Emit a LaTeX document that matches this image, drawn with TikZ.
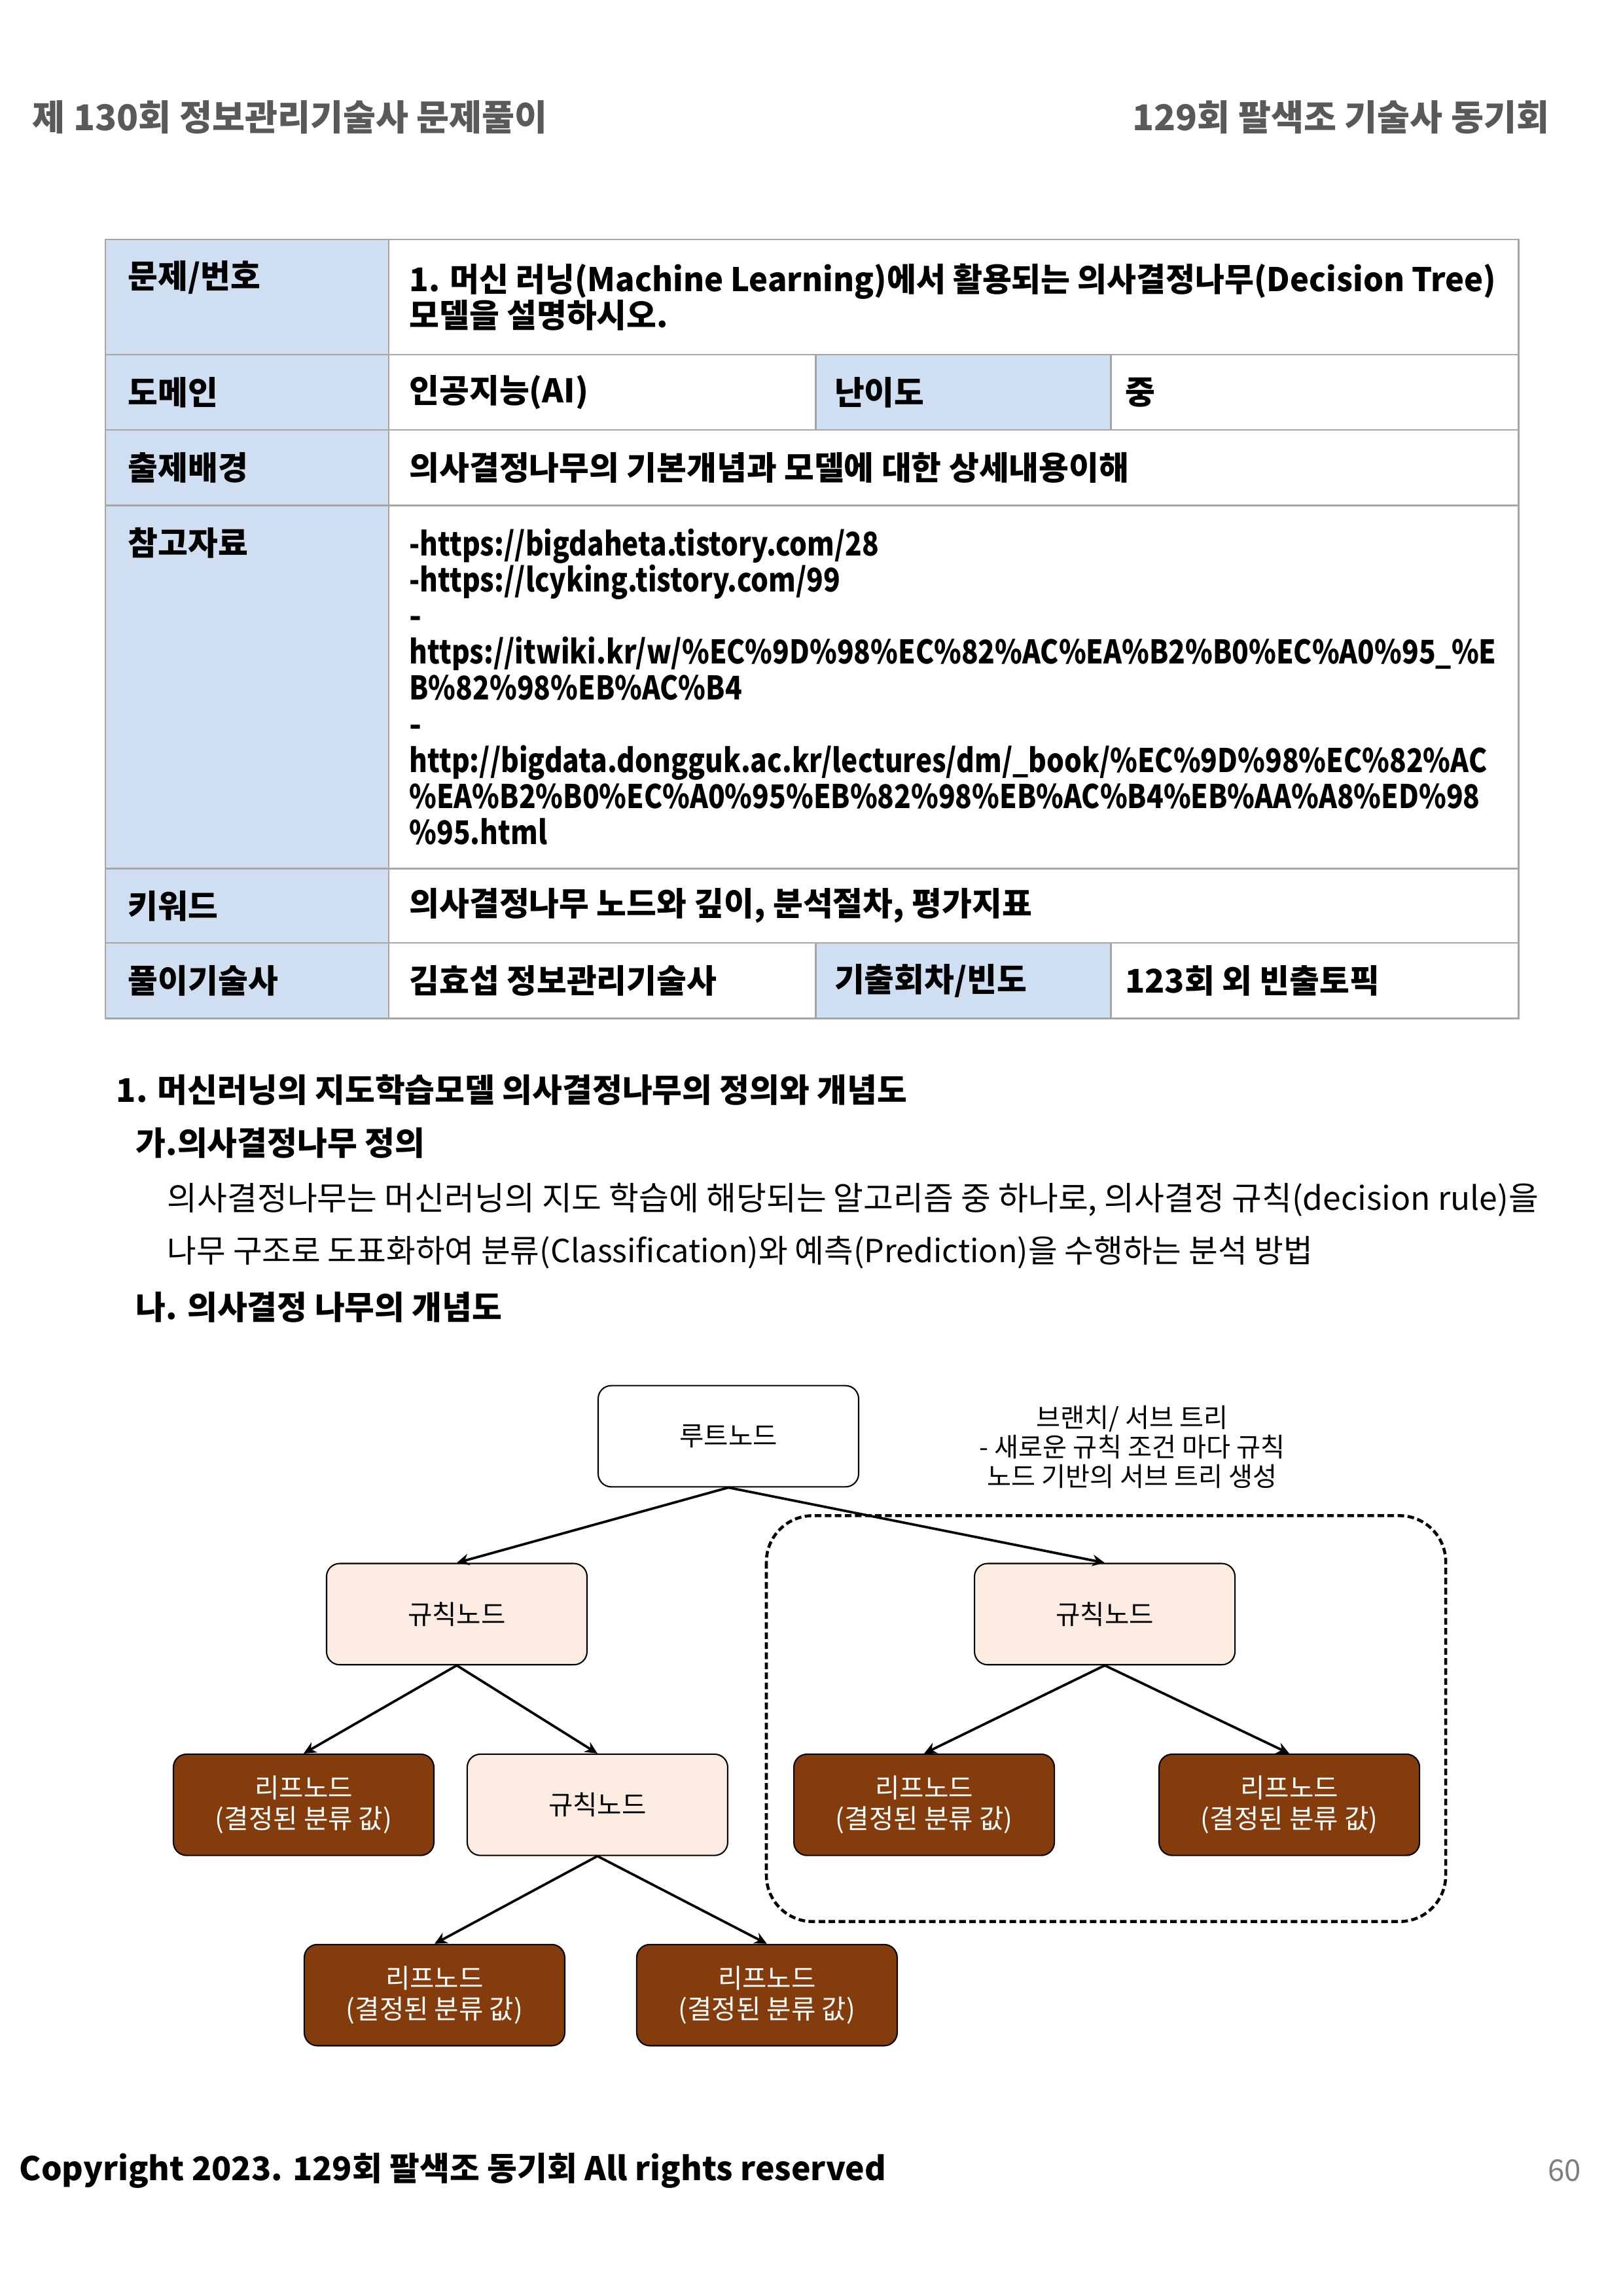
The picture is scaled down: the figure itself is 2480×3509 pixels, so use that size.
\documentclass[tikz,border=0pt]{standalone}
\usepackage{fontspec}
\setmainfont{Noto Sans CJK KR}
\usetikzlibrary{positioning,arrows.meta,calc}
\definecolor{hdblue}{HTML}{CFDFF1}
\definecolor{tline}{HTML}{A6A6A6}
\definecolor{headgray}{HTML}{595959}
\definecolor{pagegray}{HTML}{7F7F7F}
\definecolor{rulefill}{HTML}{FCEBE0}
\definecolor{leafbrown}{HTML}{843C0C}
\newcommand{\tb}{\fontsize{12}{13.3}\selectfont\bfseries}
\newcommand{\dg}{\fontsize{9.8}{11.3}\selectfont}
\newcommand{\narrow}[1]{\scalebox{0.85}[1]{#1}}

\begin{document}
\begin{tikzpicture}[x=0.08467mm,y=-0.08467mm,
  pg/.style={inner sep=0pt,anchor=west},
  hdr/.style={pg,font=\fontsize{13.1}{15}\selectfont\bfseries,text=headgray},
  sec/.style={pg,font=\tb},
  txt/.style={pg,font=\fontsize{12}{13.3}\selectfont},
  hd/.style={draw=tline,line width=0.7pt,fill=hdblue,outer sep=0pt,inner sep=0pt,minimum width=36.66mm},
  hd2/.style={hd,minimum width=38.19mm},
  bd/.style={draw=tline,line width=0.7pt,outer sep=0pt,inner sep=0pt},
  hdt/.style={anchor=west,inner sep=0pt,font=\tb,xshift=2.88mm,yshift=-4.91mm},
  bdt/.style={anchor=west,inner sep=0pt,font=\tb,align=left,xshift=2.6mm},
  box/.style={draw,line width=0.5pt,rounded corners=1.7mm,minimum width=33.7mm,minimum height=13.1mm,font=\dg,align=center},
  rootbox/.style={box,fill=white},
  rulebox/.style={box,fill=rulefill},
  leafbox/.style={box,fill=leafbrown,text=white},
  ar/.style={-{Stealth[length=1.6mm,width=1.5mm]},line width=0.9pt},
  subtree/.style={line width=1.1pt,dash pattern=on 0.85mm off 0.45mm,rounded corners=6mm}]
\useasboundingbox (0,0) rectangle (2480,3509);
% ---- page header / footer ----
\node[hdr] (hl) at (49,179) {제 130회 정보관리기술사 문제풀이};
\node[hdr,anchor=east] (hr) at (2368,179) {129회 팔색조 기술사 동기회};
\node[pg,font=\fontsize{12}{14}\selectfont\bfseries] (foot) at (29,3317) {Copyright 2023. 129회 팔색조 동기회 All rights reserved};
\node[pg,anchor=east,font=\fontsize{11}{13}\selectfont,text=pagegray] (pno) at (2417,3317) {60};
% ---- question table ----
\node[hd,anchor=north west,minimum height=14.9mm] (h1) at (161,366) {};
\node[bd,right=0pt of h1,minimum width=146.15mm,minimum height=14.9mm] (b1) {};
\node[hd,below=0pt of h1,minimum height=9.74mm] (h2) {};
\node[bd,right=0pt of h2,minimum width=55.21mm,minimum height=9.74mm] (b2) {};
\node[hd2,right=0pt of b2,minimum height=9.74mm] (h2b) {};
\node[bd,right=0pt of h2b,minimum width=52.75mm,minimum height=9.74mm] (b2b) {};
\node[hd,below=0pt of h2,minimum height=9.74mm] (h3) {};
\node[bd,right=0pt of h3,minimum width=146.15mm,minimum height=9.74mm] (b3) {};
\node[hd,below=0pt of h3,minimum height=46.99mm] (h4) {};
\node[bd,right=0pt of h4,minimum width=146.15mm,minimum height=46.99mm] (b4) {};
\node[hd,below=0pt of h4,minimum height=9.65mm] (h5) {};
\node[bd,right=0pt of h5,minimum width=146.15mm,minimum height=9.65mm] (b5) {};
\node[hd,below=0pt of h5,minimum height=9.74mm] (h6) {};
\node[bd,right=0pt of h6,minimum width=55.21mm,minimum height=9.74mm] (b6) {};
\node[hd2,right=0pt of b6,minimum height=9.74mm] (h6b) {};
\node[bd,right=0pt of h6b,minimum width=52.75mm,minimum height=9.74mm] (b6b) {};
% cell texts
\node[hdt] (h1t) at (h1.north west) {문제/번호};
\node[bdt] (b1t) at (b1.west) {\scalebox{0.98}[1]{1. 머신 러닝(Machine Learning)에서 활용되는 의사결정나무(Decision Tree)}\\모델을 설명하시오.};
\node[hdt] (h2t) at (h2.north west) {도메인};
\node[bdt] (b2t) at (b2.west) {인공지능(AI)};
\node[hdt,xshift=-0.5mm] (h2bt) at (h2b.north west) {난이도};
\node[bdt,xshift=-0.8mm] (b2bt) at (b2b.west) {중};
\node[hdt] (h3t) at (h3.north west) {출제배경};
\node[bdt] (b3t) at (b3.west) {의사결정나무의 기본개념과 모델에 대한 상세내용이해};
\node[hdt] (h4t) at (h4.north west) {참고자료};
\node[bdt] (b4t) at (b4.west) {\narrow{-https://bigdaheta.tistory.com/28}\\
  \narrow{-https://lcyking.tistory.com/99}\\
  -\\
  \narrow{https://itwiki.kr/w/\%EC\%9D\%98\%EC\%82\%AC\%EA\%B2\%B0\%EC\%A0\%95\_\%E}\\
  \narrow{B\%82\%98\%EB\%AC\%B4}\\
  -\\
  \narrow{http://bigdata.dongguk.ac.kr/lectures/dm/\_book/\%EC\%9D\%98\%EC\%82\%AC}\\
  \narrow{\%EA\%B2\%B0\%EC\%A0\%95\%EB\%82\%98\%EB\%AC\%B4\%EB\%AA\%A8\%ED\%98}\\
  \narrow{\%95.html}};
\node[hdt] (h5t) at (h5.north west) {키워드};
\node[bdt] (b5t) at (b5.west) {의사결정나무 노드와 깊이, 분석절차, 평가지표};
\node[hdt] (h6t) at (h6.north west) {풀이기술사};
\node[bdt] (b6t) at (b6.west) {김효섭 정보관리기술사};
\node[hdt,xshift=-0.5mm] (h6bt) at (h6b.north west) {기출회차/빈도};
\node[bdt,xshift=-0.8mm] (b6bt) at (b6b.west) {123회 외 빈출토픽};
% ---- answer text ----
\node[sec] (s1) at (177,1666) {1. 머신러닝의 지도학습모델 의사결정나무의 정의와 개념도};
\node[sec] (s1a) at (207,1747) {가.의사결정나무 정의};
\node[txt] (p1) at (255,1834) {의사결정나무는 머신러닝의 지도 학습에 해당되는 알고리즘 중 하나로, 의사결정 규칙(decision rule)을};
\node[txt,font=\fontsize{11.7}{13.3}\selectfont] (p2) at (255,1914) {나무 구조로 도표화하여 분류(Classification)와 예측(Prediction)을 수행하는 분석 방법};
\node[sec] (s1b) at (207,1998) {나. 의사결정 나무의 개념도};
% ---- decision tree ----
\node[rootbox] (root) at (1113,2195) {루트노드};
\node[rulebox,below=9.74mm of root,xshift=-35.14mm] (ruleL) {규칙노드};
\node[rulebox,below=9.74mm of root,xshift=48.69mm] (ruleR) {규칙노드};
\node[leafbox,below=11.4mm of ruleL,xshift=-19.81mm] (leafA) {리프노드\\(결정된 분류 값)};
\node[rulebox,below=11.4mm of ruleL,xshift=18.2mm] (ruleM) {규칙노드};
\node[leafbox,below=11.4mm of ruleR,xshift=-23.37mm] (leafB) {리프노드\\(결정된 분류 값)};
\node[leafbox,below=11.4mm of ruleR,xshift=23.88mm] (leafC) {리프노드\\(결정된 분류 값)};
\node[leafbox,below=11.35mm of ruleM,xshift=-21.08mm] (leafD) {리프노드\\(결정된 분류 값)};
\node[leafbox,below=11.35mm of ruleM,xshift=21.93mm] (leafE) {리프노드\\(결정된 분류 값)};
\node[above=9.6mm of ruleR,xshift=3.56mm,inner sep=0pt,align=center,font=\fontsize{9.7}{10.8}\selectfont] (note)
 {브랜치/ 서브 트리\\- 새로운 규칙 조건 마다 규칙\\노드 기반의 서브 트리 생성};
\draw[subtree] ($(leafB.west |- ruleR.north)+(-3.47mm,6.1mm)$) rectangle ($(leafC.south east)+(3.3mm,-8.47mm)$);
\draw[ar] (root.south)--(ruleL.north); \draw[ar] (root.south)--(ruleR.north);
\draw[ar] (ruleL.south)--(leafA.north); \draw[ar] (ruleL.south)--(ruleM.north);
\draw[ar] (ruleR.south)--(leafB.north); \draw[ar] (ruleR.south)--(leafC.north);
\draw[ar] (ruleM.south)--(leafD.north); \draw[ar] (ruleM.south)--(leafE.north);
\end{tikzpicture}
\end{document}
